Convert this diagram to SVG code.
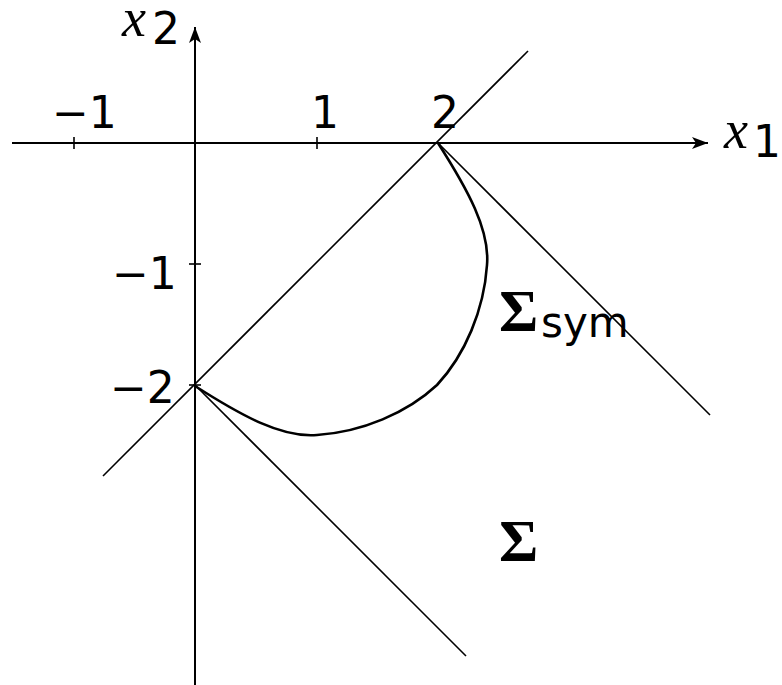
<svg xmlns="http://www.w3.org/2000/svg" width="782" height="685" viewBox="0 0 782 685">
<defs>
<marker id="arr" markerWidth="16" markerHeight="12" refX="16" refY="6" orient="auto" markerUnits="userSpaceOnUse">
<path d="M0,0 L16,6 L0,12 L4,6 Z" fill="#000"/>
</marker>
<style>
.ax{stroke:#000;stroke-width:2;fill:none}
.ln{stroke:#000;stroke-width:1.6;fill:none}
.cv{stroke:#000;stroke-width:2.6;fill:none}
.num{font-family:"DejaVu Sans","Liberation Sans",sans-serif;font-size:44px;fill:#000}
.var{font-family:"Liberation Serif",serif;font-style:italic;font-size:54px;fill:#000}
.sig{font-family:"Liberation Serif",serif;font-weight:bold;font-size:60px;fill:#000}
</style>
</defs>
<rect width="782" height="685" fill="#fff"/>
<g id="connectors">
<line class="ax" x1="12" y1="143" x2="708" y2="143" marker-end="url(#arr)"/>
<line class="ax" x1="195" y1="685" x2="195" y2="27" marker-end="url(#arr)"/>
<line class="ln" x1="74" y1="137" x2="74" y2="149"/>
<line class="ln" x1="317" y1="137" x2="317" y2="149"/>
<line class="ln" x1="189" y1="264" x2="201" y2="264"/>
<line class="ln" x1="189" y1="385" x2="201" y2="385"/>
<line class="ln" x1="103" y1="476" x2="528" y2="51"/>
<line class="ln" x1="438" y1="143" x2="710" y2="415"/>
<line class="ln" x1="195" y1="385" x2="466" y2="656"/>
<path class="cv" d="M438,143 C468,190 490,230 487,265 C484,310 465,355 437,385 C407,413 362,432 317,435 C282,438 242,416 195,386"/>
</g>
<g id="labels">
<text class="num" x="52" y="128">−1</text>
<text class="num" x="311" y="128">1</text>
<text class="num" x="431" y="128">2</text>
<text class="num" x="112" y="289">−1</text>
<text class="num" x="110" y="403">−2</text>
<g id="x2label"><text class="var" x="122" y="36">x</text><text class="num" x="152" y="44">2</text></g>
<g id="x1label"><text class="var" x="724" y="148">x</text><text class="num" x="753" y="157">1</text></g>
<g id="sigsym"><text class="sig" x="499" y="331">Σ</text><text class="num" x="541" y="337" style="font-size:42px">sym</text></g>
<g id="sig"><text class="sig" x="499" y="561">Σ</text></g>
</g>
</svg>
